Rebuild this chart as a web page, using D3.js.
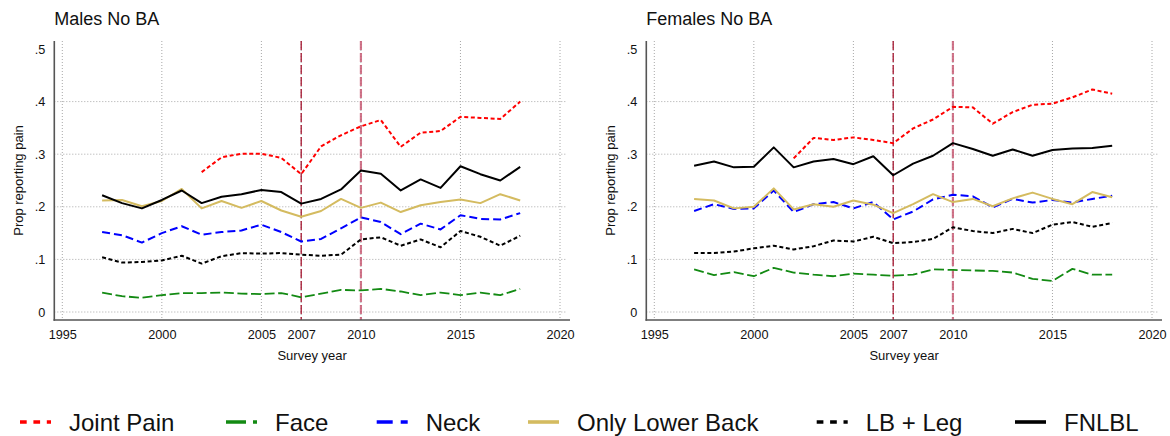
<!DOCTYPE html>
<html>
<head>
<meta charset="utf-8">
<script src="https://cdn.jsdelivr.net/npm/d3@7"></script>
<style>
  html, body { margin: 0; padding: 0; background: #fff; }
  svg { display: block; font-family: "Liberation Sans", Arial, Helvetica, sans-serif; }
</style>
</head>
<body>
<svg id="chart" width="1170" height="436"></svg>
<script>
// ---------- DATA ----------
const years = [1997,1998,1999,2000,2001,2002,2003,2004,2005,2006,2007,2008,2009,2010,2011,2012,2013,2014,2015,2016,2017,2018];
const jointYears = [2002,2003,2004,2005,2006,2007,2008,2009,2010,2011,2012,2013,2014,2015,2016,2017,2018];

const panelTitles = ["Males No BA", "Females No BA"];
const seriesNames = ["Joint Pain", "Face", "Neck", "Only Lower Back", "LB + Leg", "FNLBL"];

// Males No BA
const maleJoint = [0.266,0.294,0.301,0.301,0.293,0.262,0.315,0.336,0.353,0.365,0.314,0.341,0.344,0.371,0.369,0.367,0.400];
const maleFace  = [0.037,0.030,0.027,0.032,0.036,0.036,0.037,0.035,0.034,0.036,0.028,0.035,0.042,0.041,0.044,0.039,0.032,0.037,0.032,0.037,0.032,0.044];
const maleNeck  = [0.152,0.146,0.132,0.150,0.163,0.147,0.152,0.155,0.166,0.152,0.134,0.139,0.159,0.180,0.171,0.148,0.168,0.157,0.184,0.177,0.176,0.188];
const maleOLB   = [0.212,0.213,0.201,0.211,0.234,0.197,0.211,0.198,0.211,0.193,0.181,0.192,0.215,0.198,0.208,0.190,0.203,0.209,0.214,0.207,0.224,0.212];
const maleLBLeg = [0.104,0.094,0.095,0.098,0.107,0.092,0.106,0.112,0.111,0.112,0.109,0.107,0.109,0.138,0.142,0.126,0.138,0.123,0.154,0.143,0.126,0.145];
const maleFNLBL = [0.222,0.207,0.197,0.213,0.231,0.207,0.219,0.224,0.232,0.228,0.206,0.215,0.233,0.269,0.263,0.231,0.252,0.236,0.277,0.262,0.250,0.276];

// Females No BA
const femJoint = [0.292,0.331,0.327,0.332,0.327,0.321,0.349,0.366,0.390,0.389,0.358,0.380,0.394,0.396,0.408,0.423,0.415];
const femFace  = [0.081,0.070,0.076,0.068,0.084,0.075,0.071,0.068,0.073,0.071,0.069,0.071,0.081,0.080,0.079,0.078,0.075,0.063,0.059,0.082,0.071,0.071];
const femNeck  = [0.192,0.205,0.196,0.197,0.231,0.190,0.205,0.209,0.197,0.209,0.176,0.191,0.214,0.223,0.220,0.199,0.215,0.208,0.213,0.208,0.215,0.221];
const femOLB   = [0.215,0.212,0.197,0.200,0.235,0.195,0.205,0.200,0.212,0.204,0.188,0.205,0.224,0.209,0.215,0.201,0.216,0.227,0.215,0.205,0.228,0.218];
const femLBLeg = [0.112,0.112,0.115,0.121,0.126,0.119,0.125,0.136,0.134,0.143,0.131,0.133,0.139,0.161,0.154,0.150,0.158,0.150,0.166,0.171,0.162,0.169];
const femFNLBL = [0.278,0.286,0.275,0.276,0.313,0.275,0.286,0.291,0.281,0.296,0.260,0.282,0.297,0.321,0.310,0.297,0.309,0.297,0.308,0.311,0.312,0.316];

const xTicks = [1995, 2000, 2005, 2007, 2010, 2015, 2020];
const yTicks = [0, 0.1, 0.2, 0.3, 0.4, 0.5];
const yGrid  = [0, 0.1, 0.2, 0.3, 0.4];
const refYears = [2007, 2010];

// ---------- STYLES ----------
const styles = [
  { color: "#ff0000", width: 2.0, dash: "4,2.6",  ldash: "6.7,6.7", lwidth: 3.6 },
  { color: "#138a13", width: 1.8, dash: "10,3.6", ldash: "20,7",    lwidth: 3.6 },
  { color: "#0000ff", width: 2.0, dash: "8,4",    ldash: "16,8",    lwidth: 3.6 },
  { color: "#d4bb60", width: 2.0, dash: null,     ldash: null,      lwidth: 3.6 },
  { color: "#000000", width: 2.0, dash: "4,2.6",  ldash: "6.7,6.7", lwidth: 3.6 },
  { color: "#000000", width: 2.0, dash: null,     ldash: null,      lwidth: 3.6 }
];

const panels = [
  { title: panelTitles[0], offset: 0,
    series: [[jointYears, maleJoint],[years, maleFace],[years, maleNeck],[years, maleOLB],[years, maleLBLeg],[years, maleFNLBL]] },
  { title: panelTitles[1], offset: 592,
    series: [[jointYears, femJoint],[years, femFace],[years, femNeck],[years, femOLB],[years, femLBLeg],[years, femFNLBL]] }
];

const svg = d3.select("#chart");
const font = "\"Liberation Sans\", Arial, Helvetica, sans-serif";

const yFmt = d => d === 0 ? "0" : d3.format(".1f")(d).replace(/^0/, "");

panels.forEach(p => {
  const o = p.offset;
  const axisX = 54.3 + o, plotTop = 41, axisY = 320, plotRight = 570 + o;
  const x = d3.scaleLinear().domain([1995, 2020]).range([62.3 + o, 560 + o]);
  const y = d3.scaleLinear().domain([0, 0.5]).range([312, 49]);
  const g = svg.append("g");

  // gridlines
  g.selectAll(".hg").data(yGrid).join("line")
    .attr("x1", axisX).attr("x2", plotRight - 3)
    .attr("y1", d => y(d)).attr("y2", d => y(d))
    .attr("stroke", "#a8a8a8").attr("stroke-width", 1).attr("stroke-dasharray", "1,2");
  g.selectAll(".vg").data(xTicks).join("line")
    .attr("x1", d => x(d)).attr("x2", d => x(d))
    .attr("y1", plotTop).attr("y2", axisY)
    .attr("stroke", "#a8a8a8").attr("stroke-width", 1).attr("stroke-dasharray", "1,2");

  // reference lines
  g.append("line")
    .attr("x1", x(refYears[0])).attr("x2", x(refYears[0]))
    .attr("y1", plotTop).attr("y2", axisY)
    .attr("stroke", "#a3152f").attr("stroke-width", 1.3).attr("stroke-dasharray", "9,3");
  g.append("line")
    .attr("x1", x(refYears[1])).attr("x2", x(refYears[1]))
    .attr("y1", plotTop).attr("y2", axisY)
    .attr("stroke", "#c4536d").attr("stroke-opacity", 0.8).attr("stroke-width", 2.2).attr("stroke-dasharray", "9,3");

  // series lines (draw back to front: FNLBL last? keep original order)
  const line = d3.line().x(d => x(d[0])).y(d => y(d[1]));
  p.series.forEach((s, i) => {
    const pts = s[0].map((yr, k) => [yr, s[1][k]]);
    const st = styles[i];
    g.append("path").datum(pts)
      .attr("d", line)
      .attr("fill", "none")
      .attr("stroke", st.color)
      .attr("stroke-width", st.width)
      .attr("stroke-linejoin", "round")
      .attr("stroke-dasharray", st.dash);
  });

  // axes (labels only)
  const ax = g.append("g").attr("transform", `translate(0,${axisY})`)
    .call(d3.axisBottom(x).tickValues(xTicks).tickFormat(d3.format("d")).tickSize(0).tickPadding(10));
  ax.select(".domain").remove();
  ax.selectAll("text").attr("font-size", 12.7).attr("font-family", font).attr("fill", "#111");

  const ay = g.append("g").attr("transform", `translate(${axisX - 9},0)`)
    .call(d3.axisLeft(y).tickValues(yTicks).tickFormat(yFmt).tickSize(0).tickPadding(0));
  ay.select(".domain").remove();
  ay.selectAll("text").attr("font-size", 12.7).attr("font-family", font).attr("fill", "#111");

  // axis lines
  g.append("line").attr("x1", axisX).attr("x2", axisX).attr("y1", plotTop).attr("y2", axisY + 0.8)
    .attr("stroke", "#555").attr("stroke-width", 1.6);
  g.append("line").attr("x1", axisX - 0.8).attr("x2", plotRight).attr("y1", axisY).attr("y2", axisY)
    .attr("stroke", "#555").attr("stroke-width", 1.6);

  // titles
  g.append("text").attr("x", axisX).attr("y", 25)
    .attr("font-size", 18).attr("font-family", font).attr("fill", "#111").text(p.title);
  g.append("text").attr("x", (axisX + plotRight) / 2).attr("y", 360)
    .attr("text-anchor", "middle").attr("font-size", 13).attr("font-family", font).attr("fill", "#111")
    .text("Survey year");
  g.append("text").attr("transform", `translate(${18 + o},${(plotTop + axisY) / 2}) rotate(-90)`)
    .attr("text-anchor", "middle").attr("dominant-baseline", "central")
    .attr("font-size", 13).attr("font-family", font).attr("fill", "#111")
    .text("Prop reporting pain");
});

// legend
const legendX = [20, 226, 376.7, 528, 816.7, 1015];
const lg = svg.append("g");
seriesNames.forEach((name, i) => {
  const st = styles[i];
  lg.append("line").attr("x1", legendX[i]).attr("x2", legendX[i] + 31)
    .attr("y1", 422).attr("y2", 422)
    .attr("stroke", st.color).attr("stroke-width", st.lwidth)
    .attr("stroke-dasharray", st.ldash);
  lg.append("text").attr("x", legendX[i] + 49).attr("y", 430.5)
    .attr("font-size", 24).attr("font-family", font).attr("fill", "#111").text(name);
});
</script>
</body>
</html>
